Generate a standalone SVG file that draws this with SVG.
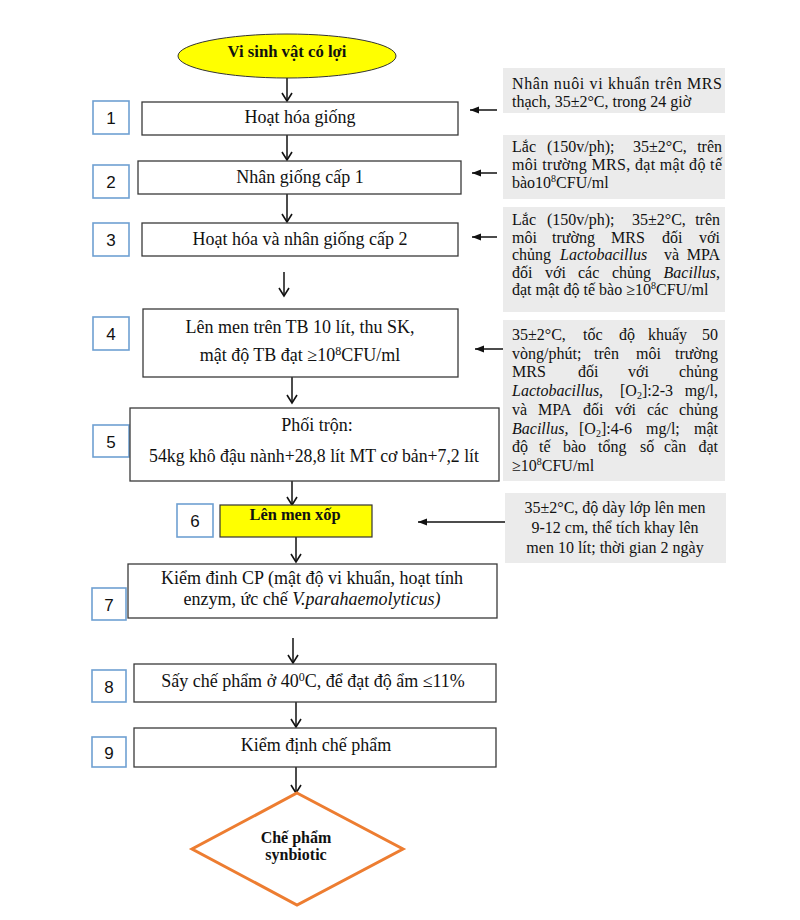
<svg xmlns="http://www.w3.org/2000/svg" width="800" height="920" viewBox="0 0 800 920">
<style>
.box{fill:#fff;stroke:#3a3a3a;stroke-width:1.3}
.num{fill:#fff;stroke:#6fa0d2;stroke-width:1.6}
.note{fill:#ebebeb;stroke:none}
.t{font-family:"Liberation Serif","Times New Roman",serif;font-size:18px;fill:#111}
.tb{font-family:"Liberation Serif","Times New Roman",serif;font-size:16px;font-weight:bold;fill:#111}
.n{font-family:"Liberation Sans",Arial,sans-serif;font-size:17px;fill:#111;text-anchor:middle}
.s{font-family:"Liberation Serif","Times New Roman",serif;font-size:16px;fill:#111}
.c{text-anchor:middle}
.e{text-anchor:end}
.i{font-style:italic}
.con{stroke:#111;stroke-width:1.5;fill:none}
</style>
<defs>
<marker id="open" markerWidth="12" markerHeight="12" refX="10" refY="6" orient="auto" markerUnits="userSpaceOnUse">
<path d="M2,1 L10,6 L2,11" fill="none" stroke="#111" stroke-width="1.6"/>
</marker>
<marker id="fill" markerWidth="10" markerHeight="8" refX="9" refY="4" orient="auto" markerUnits="userSpaceOnUse">
<path d="M0,0.5 L9,4 L0,7.5 Z" fill="#111"/>
</marker>
</defs>
<rect width="800" height="920" fill="#fff"/>

<g id="connectors">
<line class="con" x1="287" y1="78" x2="287" y2="101" marker-end="url(#open)"/>
<line class="con" x1="287" y1="135" x2="287" y2="160" marker-end="url(#open)"/>
<line class="con" x1="287" y1="194" x2="287" y2="222" marker-end="url(#open)"/>
<line class="con" x1="284" y1="272" x2="284" y2="296" marker-end="url(#open)"/>
<line class="con" x1="292" y1="377" x2="292" y2="403" marker-end="url(#open)"/>
<line class="con" x1="292" y1="481" x2="292" y2="505" marker-end="url(#open)"/>
<line class="con" x1="296" y1="537" x2="296" y2="562" marker-end="url(#open)"/>
<line class="con" x1="293" y1="638" x2="293" y2="663" marker-end="url(#open)"/>
<line class="con" x1="296" y1="702" x2="296" y2="727" marker-end="url(#open)"/>
<line class="con" x1="296" y1="767" x2="296" y2="793" marker-end="url(#open)"/>
<line class="con" stroke-width="1.2" x1="497" y1="110" x2="470" y2="110" marker-end="url(#fill)"/>
<line class="con" stroke-width="1.2" x1="497" y1="173" x2="472" y2="173" marker-end="url(#fill)"/>
<line class="con" stroke-width="1.2" x1="497" y1="237" x2="472" y2="237" marker-end="url(#fill)"/>
<line class="con" stroke-width="1.2" x1="503" y1="349" x2="475" y2="349" marker-end="url(#fill)"/>
<line class="con" stroke-width="1.2" x1="505" y1="522" x2="418" y2="522" marker-end="url(#fill)"/>
</g>

<g id="start">
<ellipse cx="287" cy="56" rx="109" ry="22" fill="#ffff00" stroke="#333" stroke-width="1"/>
<text class="tb c" x="287" y="57" textLength="119" lengthAdjust="spacingAndGlyphs">Vi sinh vật có lợi</text>
</g>

<g id="step1">
<rect class="num" x="93" y="101" width="36" height="33"/>
<text class="n" x="111" y="124">1</text>
<rect class="box" x="142" y="102" width="316" height="33"/>
<text class="t c" x="300" y="123">Hoạt hóa giống</text>
</g>

<g id="step2">
<rect class="num" x="93" y="165" width="36" height="33"/>
<text class="n" x="111" y="188">2</text>
<rect class="box" x="138" y="161" width="323" height="33"/>
<text class="t c" x="300" y="183">Nhân giống cấp 1</text>
</g>

<g id="step3">
<rect class="num" x="93" y="223" width="36" height="33"/>
<text class="n" x="111" y="246">3</text>
<rect class="box" x="142" y="223" width="316" height="33"/>
<text class="t c" x="300" y="245">Hoạt hóa và nhân giống cấp 2</text>
</g>

<g id="step4">
<rect class="num" x="93" y="317" width="36" height="33"/>
<text class="n" x="111" y="340">4</text>
<rect class="box" x="143" y="309" width="315" height="68"/>
<text class="t c" x="300" y="333">Lên men trên TB 10 lít, thu SK,</text>
<text class="t c" x="300" y="361">mật độ TB đạt ≥10<tspan font-size="12" dy="-6">8</tspan><tspan dy="6">CFU/ml</tspan></text>
</g>

<g id="step5">
<rect class="num" x="93" y="425" width="36" height="32"/>
<text class="n" x="111" y="448">5</text>
<rect class="box" x="130" y="408" width="369" height="73"/>
<text class="t c" x="317" y="431" font-size="20">Phối trộn:</text>
<text class="t c" x="314" y="462" textLength="330" lengthAdjust="spacingAndGlyphs">54kg khô đậu nành+28,8 lít MT cơ bản+7,2 lít</text>
</g>

<g id="step6">
<rect class="num" x="177" y="504" width="36" height="33"/>
<text class="n" x="195" y="527">6</text>
<rect x="220" y="505" width="152" height="32" fill="#ffff00" stroke="#333" stroke-width="1.2"/>
<text class="tb c" x="295" y="520" textLength="91" lengthAdjust="spacingAndGlyphs">Lên men xốp</text>
</g>

<g id="step7">
<rect class="num" x="92" y="588" width="34" height="32"/>
<text class="n" x="109" y="611">7</text>
<rect class="box" x="128" y="564" width="369" height="54"/>
<text class="t c" x="312" y="584">Kiểm đinh CP (mật độ vi khuẩn, hoạt tính</text>
<text class="t c" x="312" y="605">enzym, ức chế <tspan class="i">V.parahaemolyticus)</tspan></text>
</g>

<g id="step8">
<rect class="num" x="92" y="670" width="34" height="32"/>
<text class="n" x="109" y="693">8</text>
<rect class="box" x="134" y="664" width="362" height="38"/>
<text class="t c" x="313" y="687">Sấy chế phẩm ở 40<tspan font-size="12" dy="-6">0</tspan><tspan dy="6">C, để đạt độ ẩm ≤11%</tspan></text>
</g>

<g id="step9">
<rect class="num" x="92" y="737" width="34" height="30"/>
<text class="n" x="109" y="759">9</text>
<rect class="box" x="134" y="728" width="362" height="39"/>
<text class="t c" x="316" y="751">Kiểm định chế phẩm</text>
</g>

<g id="end">
<polygon points="297,793 403,849 297,905 192,849" fill="#fff" stroke="#ed7d31" stroke-width="3"/>
<text class="tb c" x="296" y="843">Chế phẩm</text>
<text class="tb c" x="296" y="860">synbiotic</text>
</g>

<g id="note1">
<rect class="note" x="503" y="68" width="222" height="45"/>
<text class="s" x="512" y="89" textLength="210" lengthAdjust="spacing">Nhân nuôi vi khuẩn trên MRS</text>
<text class="s" x="512" y="107">thạch, 35±2°C, trong 24 giờ</text>
</g>

<g id="note2">
<rect class="note" x="503" y="135" width="222" height="64"/>
<text class="s" x="512" y="152">Lắc</text>
<text class="s" x="547" y="152">(150v/ph);</text>
<text class="s" x="633" y="152">35±2°C,</text>
<text class="s e" x="722" y="152">trên</text>
<text class="s" x="512" y="170" textLength="210" lengthAdjust="spacing">môi trường MRS, đạt mật độ tế</text>
<text class="s" x="512" y="188">bào10<tspan font-size="10" dy="-6">8</tspan><tspan dy="6">CFU/ml</tspan></text>
</g>

<g id="note3">
<rect class="note" x="503" y="207" width="222" height="105"/>
<text class="s" x="512" y="225">Lắc</text>
<text class="s" x="547" y="225">(150v/ph);</text>
<text class="s" x="632" y="225">35±2°C,</text>
<text class="s e" x="720" y="225">trên</text>
<text class="s" x="512" y="242.5">môi</text>
<text class="s" x="552" y="242.5">trường</text>
<text class="s" x="611" y="242.5">MRS</text>
<text class="s" x="662" y="242.5">đối</text>
<text class="s e" x="720" y="242.5">với</text>
<text class="s" x="512" y="260">chủng</text>
<text class="s i" x="560" y="260">Lactobacillus</text>
<text class="s" x="664" y="260">và</text>
<text class="s e" x="720" y="260">MPA</text>
<text class="s" x="512" y="277.5">đối</text>
<text class="s" x="545" y="277.5">với</text>
<text class="s" x="578" y="277.5">các</text>
<text class="s" x="612" y="277.5">chủng</text>
<text class="s e" x="720" y="277.5"><tspan class="i">Bacillus</tspan>,</text>
<text class="s" x="512" y="295">đạt mật độ tế bào ≥10<tspan font-size="10" dy="-6">8</tspan><tspan dy="6">CFU/ml</tspan></text>
</g>

<g id="note4">
<rect class="note" x="503" y="320" width="222" height="161"/>
<text class="s" x="512" y="340">35±2°C,</text>
<text class="s" x="583" y="340">tốc</text>
<text class="s" x="619" y="340">độ</text>
<text class="s" x="648" y="340">khuấy</text>
<text class="s e" x="718" y="340">50</text>
<text class="s" x="512" y="358.7">vòng/phút;</text>
<text class="s" x="594" y="358.7">trên</text>
<text class="s" x="636" y="358.7">môi</text>
<text class="s e" x="718" y="358.7">trường</text>
<text class="s" x="512" y="377.4">MRS</text>
<text class="s" x="578" y="377.4">đối</text>
<text class="s" x="628" y="377.4">với</text>
<text class="s e" x="718" y="377.4">chủng</text>
<text class="s i" x="512" y="396.1">Lactobacillus,</text>
<text class="s" x="620" y="396.1">[O<tspan font-size="10" dy="3">2</tspan><tspan dy="-3">]:2-3</tspan></text>
<text class="s e" x="718" y="396.1">mg/l,</text>
<text class="s" x="512" y="414.8">và</text>
<text class="s" x="538" y="414.8">MPA</text>
<text class="s" x="583" y="414.8">đối</text>
<text class="s" x="615" y="414.8">với</text>
<text class="s" x="647" y="414.8">các</text>
<text class="s e" x="718" y="414.8">chủng</text>
<text class="s i" x="512" y="433.5">Bacillus,</text>
<text class="s" x="579" y="433.5">[O<tspan font-size="10" dy="3">2</tspan><tspan dy="-3">]:4-6</tspan></text>
<text class="s" x="646" y="433.5">mg/l;</text>
<text class="s e" x="718" y="433.5">mật</text>
<text class="s" x="512" y="452.2">độ</text>
<text class="s" x="539" y="452.2">tế</text>
<text class="s" x="563" y="452.2">bào</text>
<text class="s" x="598" y="452.2">tổng</text>
<text class="s" x="640" y="452.2">số</text>
<text class="s" x="664" y="452.2">cần</text>
<text class="s e" x="718" y="452.2">đạt</text>
<text class="s" x="512" y="471">≥10<tspan font-size="10" dy="-6">8</tspan><tspan dy="6">CFU/ml</tspan></text>
</g>

<g id="note5">
<rect class="note" x="505" y="493" width="221" height="70"/>
<text class="s c" x="615" y="513">35±2°C, độ dày lớp lên men</text>
<text class="s c" x="615" y="533">9-12 cm, thể tích khay lên</text>
<text class="s c" x="615" y="553">men 10 lít; thời gian 2 ngày</text>
</g>
</svg>
